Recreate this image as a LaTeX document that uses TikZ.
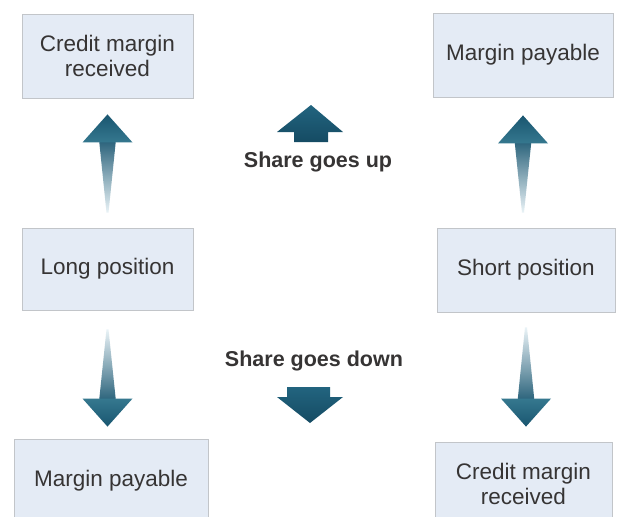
\documentclass[tikz,border=0pt]{standalone}
\usepackage{fontspec}
\setmainfont{Liberation Sans}
\usetikzlibrary{calc}
\usetikzlibrary{shadows}

\definecolor{Box Fill}{HTML}{E4EBF5}
\definecolor{Box Edge}{HTML}{C2C5C9}
\definecolor{Label Ink}{HTML}{363434}
\definecolor{Arrow Dark}{HTML}{1A5670}
\definecolor{Arrow Mid}{HTML}{35788F}
\definecolor{Arrow Pale}{HTML}{EAF3F7}
\definecolor{Block Top}{HTML}{22647F}
\definecolor{Block Low}{HTML}{154B63}

\tikzset{Flow Box/.style = {draw = Box Edge, fill = Box Fill, line width = 0.8pt,
    align = center, text = Label Ink, minimum height = 84pt,
    font = \fontsize{22.5}{25}\selectfont,
    drop shadow = {shadow xshift = 1pt, shadow yshift = -1pt, opacity = .2}}}
\tikzset{Share Label/.style = {text = Label Ink, font = \bfseries\fontsize{21.5}{24}\selectfont}}
\tikzset{Block Arrow/.style = {top color = Block Top, bottom color = Block Low}}
\tikzset{Up Shaft/.style = {top color = Arrow Dark, middle color = Arrow Mid!70!Arrow Pale,
    bottom color = Arrow Pale}}
\tikzset{Up Head/.style = {top color = Arrow Dark, bottom color = Arrow Mid}}
\tikzset{Down Shaft/.style = {top color = Arrow Pale, middle color = Arrow Mid!70!Arrow Pale,
    bottom color = Arrow Dark}}
\tikzset{Down Head/.style = {top color = Arrow Mid, bottom color = Arrow Dark}}

% tapered arrow: #1 tail, #2 tip, #3 shaft shading, #4 head shading
\newcommand\taperarrow[4]{%
  \coordinate (HB) at ($(#2)!28pt!(#1)$);
  \coordinate (SE) at ($(#2)!20pt!(#1)$);
  \shade[#3] ($(#1)!1pt!90:(#2)$) -- ($(SE)!9pt!90:(#2)$) --
  ($(SE)!9pt!-90:(#2)$) -- ($(#1)!1pt!-90:(#2)$) -- cycle;
  \shade[#4] ($(HB)!25pt!90:(#2)$) -- (#2) -- ($(HB)!25pt!-90:(#2)$) -- cycle;
}

\begin{document}
\begin{tikzpicture}[x = 1pt, y = -1pt]
  \fill[white] (0, 0) rectangle (622, 517);
  \clip (0, 0) rectangle (622, 517);

  \node[Flow Box, minimum width = 171pt] (CreditL) at (107.5, 56) {Credit margin\\received};
  \node[Flow Box, minimum width = 171pt, minimum height = 82pt] (Long) at (107.5, 269) {Long position};
  \node[Flow Box, minimum width = 194pt] (PayL) at (111, 481) {Margin payable};

  \node[Flow Box, minimum width = 180pt] (PayR) at (523, 55) {Margin payable};
  \node[Flow Box, minimum width = 178pt] (Short) at (526, 270) {Short position};
  \node[Flow Box, minimum width = 177pt] (CreditR) at (523.5, 484) {Credit margin\\received};

  \node[Share Label] (Up) at (318, 162) {Share goes up};
  \node[Share Label] (Down) at (314, 361) {Share goes down};

  % left column
  \coordinate (P1) at ($(Long.north)!15pt!(CreditL.south)$);
  \coordinate (P2) at ($(CreditL.south)!16pt!(Long.north)$);
  \taperarrow{P1}{P2}{Up Shaft}{Up Head}

  \coordinate (P3) at ($(Long.south)!19pt!(Long.south |- PayL.north)$);
  \coordinate (P4) at ($(Long.south |- PayL.north)!12pt!(Long.south)$);
  \taperarrow{P3}{P4}{Down Shaft}{Down Head}

  % right column
  \coordinate (P5) at ($(PayR.south |- Short.north)!15pt!(PayR.south)$);
  \coordinate (P6) at ($(PayR.south)!18pt!(PayR.south |- Short.north)$);
  \taperarrow{P5}{P6}{Up Shaft}{Up Head}

  \coordinate (P7) at ($(Short.south)!15pt!(Short.south |- CreditR.north)$);
  \coordinate (P8) at ($(Short.south |- CreditR.north)!15pt!(Short.south)$);
  \taperarrow{P7}{P8}{Down Shaft}{Down Head}

  % block arrows beside the share labels
  \coordinate (P9) at (311, 105);
  \shade[Block Arrow] (P9) -- ++(32, 27) -- ++(-15, 0) -- ++(0, 10) --
  ++(-34, 0) -- ++(0, -10) -- ++(-17, 0) -- cycle;

  \coordinate (P10) at (310, 423);
  \shade[Block Arrow] (P10) -- ++(33, -26) -- ++(-13, 0) -- ++(0, -10) --
  ++(-43, 0) -- ++(0, 10) -- ++(-10, 0) -- cycle;
\end{tikzpicture}
\end{document}
